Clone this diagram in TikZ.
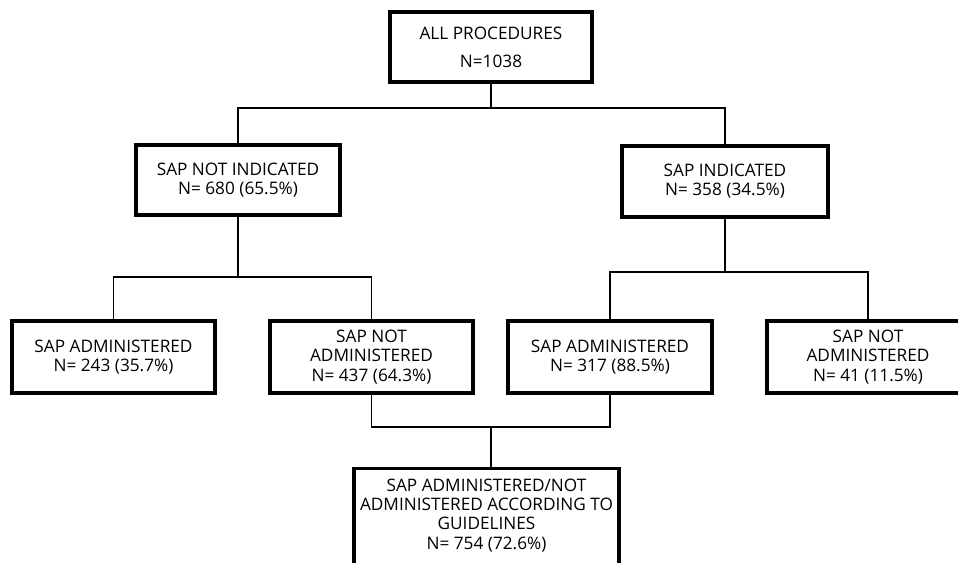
\documentclass[tikz,border=0pt]{standalone}
\usepackage{fontspec}
\setmainfont{Open Sans}
\usetikzlibrary{calc}
\tikzset{box/.style={draw,line width=1.8pt,align=center,inner sep=2pt,
    font=\fontsize{9.8}{10.9}\selectfont},
  link/.style={line width=0.6pt}}

\begin{document}
\begin{tikzpicture}[x=0.02cm,y=-0.02cm]
\useasboundingbox (0,0) rectangle (958,563);
% Draw boxes.
\node[box,minimum width=4.04cm,minimum height=1.4cm] (all) at (491,47)
  {ALL PROCEDURES\\[5pt]N=1038};
\node[box,minimum width=4.08cm,minimum height=1.4cm] (notind) at (238,180)
  {SAP NOT INDICATED\\N= 680 (65.5\%)};
\node[box,minimum width=4.12cm,minimum height=1.42cm] (ind) at (725,181.5)
  {SAP INDICATED\\N= 358 (34.5\%)};
\node[box,minimum width=4.06cm,minimum height=1.44cm] (ll) at (113.5,357)
  {SAP ADMINISTERED\\N= 243 (35.7\%)};
\node[box,minimum width=4.06cm,minimum height=1.44cm] (lr) at (371.5,357)
  {SAP NOT\\ADMINISTERED\\N= 437 (64.3\%)};
\node[box,minimum width=4.08cm,minimum height=1.44cm] (rl) at (610,357)
  {SAP ADMINISTERED\\N= 317 (88.5\%)};
\node[box,minimum width=4.04cm,minimum height=1.44cm] (rr) at (868,357)
  {SAP NOT\\ADMINISTERED\\N= 41 (11.5\%)};
\node[box,minimum width=5.3cm,anchor=north,inner ysep=6pt,text depth=1.2cm] (guide) at (486.5,467)
  {SAP ADMINISTERED/NOT\\ADMINISTERED ACCORDING TO\\GUIDELINES\\N= 754 (72.6\%)};

% Draw connectors.
\coordinate (j1) at (491,108);
\coordinate (j2) at (238,277);
\coordinate (j3) at (725,272);
\coordinate (j4) at (491,427);
\draw[link] (all) -- (j1);
\draw[link] (notind) |- (j1) -| (ind);
\draw[link] (notind) -- (j2);
\draw[link] (ll) |- (j2) -| (lr);
\draw[link] (ind) -- (j3);
\draw[link] (rl) |- (j3) -| (rr);
\draw[link] (lr) |- (j4) -| (rl);
\draw[link] (j4) -- (j4 |- guide.north);
\end{tikzpicture}
\end{document}
